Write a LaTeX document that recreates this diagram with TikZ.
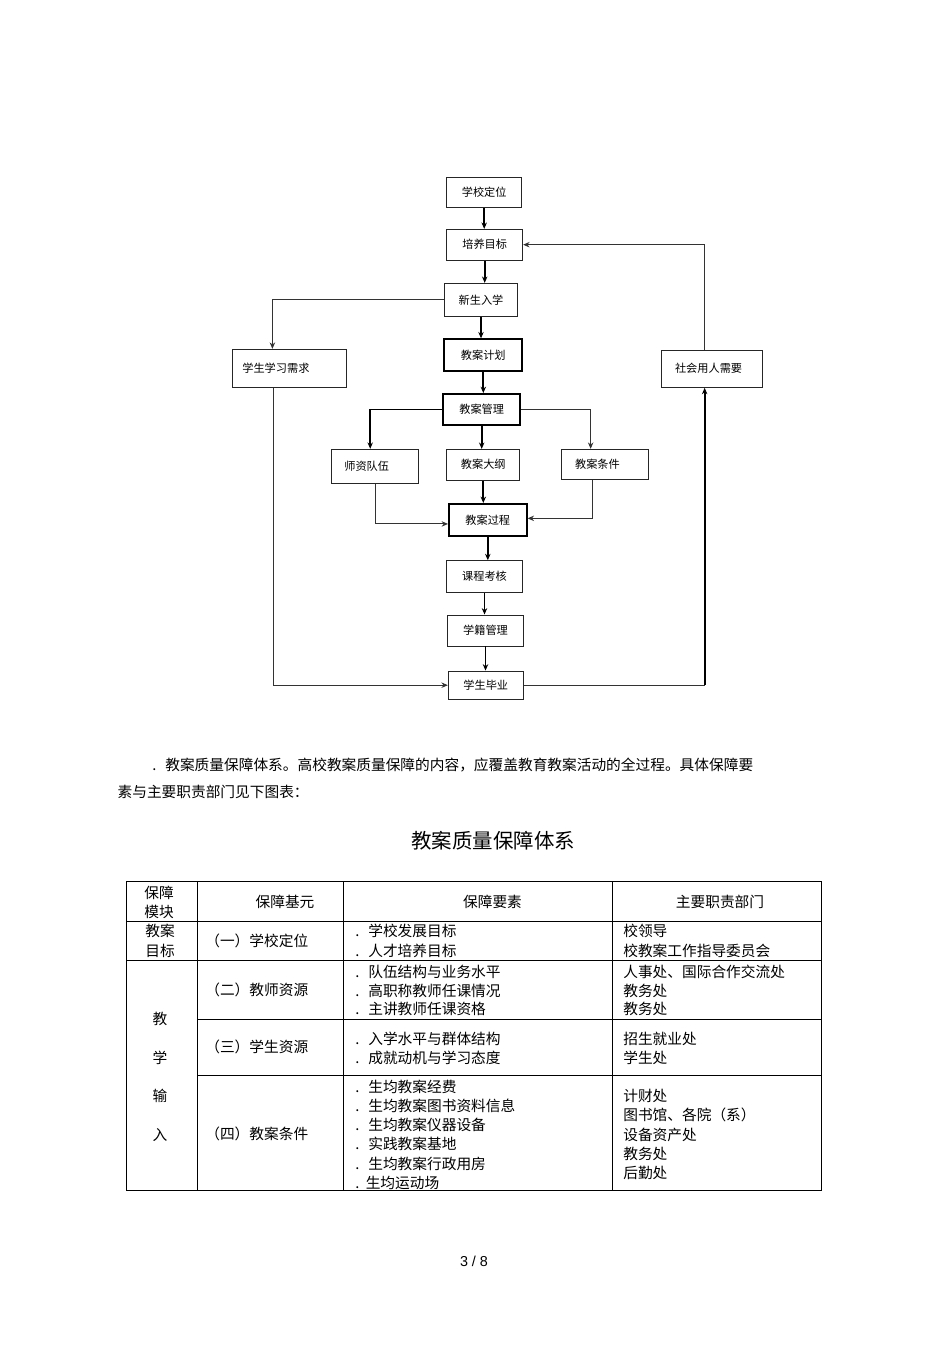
\documentclass[tikz,border=0pt]{standalone}
\usepackage{fontspec}
\setmainfont{Noto Sans CJK SC}
\newfontfamily\pagefont{Liberation Sans}
\usetikzlibrary{arrows.meta}
\newcommand{\itm}{.\hspace{5.6pt}}

\begin{document}
\begin{tikzpicture}[x=0.626pt, y=-0.626pt,
  box/.style={draw=black!85, line width=0.6pt, rectangle, inner sep=1pt,
              font=\fontsize{7}{8}\selectfont},
  tbox/.style={box, draw=black, line width=1.2pt},
  sbox/.style={box, align=left},
  wh/.style 2 args={minimum width=#1*0.626pt, minimum height=#2*0.626pt},
  arr/.style={line width=1.1pt, -{Stealth[length=4pt, width=3.4pt]}},
  lnk/.style={line width=0.6pt, draw=black!80, -{Stealth[length=4pt, width=3.4pt]}},
  cel/.style={font=\fontsize{9.2}{12}\selectfont, inner sep=0pt, anchor=west, align=left},
  tline/.style={line width=0.6pt}
]
\fill[white] (0,0) rectangle (950,1345);
\useasboundingbox (0,0) rectangle (950,1345);

\node[box, wh={75}{30}]     (xxdw) at (484.2,192.3) {学校定位};
\node[box, wh={76}{30.7}]   (pymb) at (484.7,244.7) {培养目标};
\node[box, wh={73.4}{32.7}] (xsrx) at (481,299.7)   {新生入学};
\node[tbox, wh={78}{32}]    (jajh) at (483.3,355.3) {教案计划};
\node[sbox, wh={114.4}{38}, inner xsep=6.3pt, text width=59pt]   (xsxq) at (289.5,368.3) {学生学习需求};
\node[sbox, wh={100.6}{37.3}, inner xsep=8.3pt, text width=46.3pt] (shyr) at (712,368.7) {社会用人需要};
\node[tbox, wh={76.7}{31}]  (jagl) at (481.7,409.5) {教案管理};
\node[sbox, wh={86.6}{34}, inner xsep=7.9pt, text width=38.4pt] (szdw) at (375,466.3) {师资队伍};
\node[box, wh={73.3}{30.7}] (jadg) at (483.3,464.7) {教案大纲};
\node[sbox, wh={87.3}{30}, inner xsep=8.8pt, text width=37.1pt] (jatj) at (604.7,464.3) {教案条件};
\node[tbox, wh={77.7}{31.7}] (jagc) at (487.8,519.8) {教案过程};
\node[box, wh={75.6}{31.6}] (kckh) at (484.5,576.5) {课程考核};
\node[box, wh={75.6}{31}]   (xjgl) at (485.5,630.5) {学籍管理};
\node[box, wh={75}{28.3}]   (xsby) at (485.8,685.2) {学生毕业};
\coordinate (rtc) at ([xshift=-4.6pt]shyr.south |- xsby.east);

\draw[arr] (xxdw) -- (xxdw |- pymb.north);
\draw[arr] (pymb) -- (pymb |- xsrx.north);
\draw[arr] (xsrx) -- (xsrx |- jajh.north);
\draw[arr] (jajh) -- (jajh |- jagl.north);
\draw[arr] (jagl) -- (jagl |- jadg.north);
\draw[arr] (jadg) -- (jadg |- jagc.north);
\draw[arr] (jagc) -- (jagc |- kckh.north);
\draw[arr] (kckh) -- (kckh |- xjgl.north);
\draw[arr] (xjgl) -- (xjgl |- xsby.north);
\draw[lnk] (xsrx.west) -| ([xshift=-10.7pt]xsxq.north);
\draw[lnk] ([xshift=-10.1pt]xsxq.south) |- (xsby.west);
\draw[lnk, -] (xsby.east) -- (rtc);
\draw[arr] (rtc) -- ([xshift=-4.6pt]shyr.south);
\draw[lnk] ([xshift=-4.6pt]shyr.north) |- (pymb.east);
\draw[arr] (jagl.west) -| ([xshift=-3pt]szdw.north);
\draw[lnk] (jagl.east) -| ([xshift=-8.8pt]jatj.north);
\draw[lnk] (szdw.south) |- ([yshift=-2.6pt]jagc.west);
\draw[lnk] ([xshift=-7.8pt]jatj.south) |- ([yshift=0.9pt]jagc.east);

\node[cel] (para1) at (152,765) {\itm 教案质量保障体系。高校教案质量保障的内容，应覆盖教育教案活动的全过程。具体保障要};
\node[cel] (para2) at (117.3,792) {素与主要职责部门见下图表：};
\node[font=\fontsize{12.8}{15}\selectfont, inner sep=0pt] (title) at (493.3,841) {教案质量保障体系};

\draw[tline] (126.7,881) rectangle (821.6,1190);
\draw[tline] (126.7,921.7) -- (821.6,921.7);
\draw[tline] (126.7,960) -- (821.6,960);
\draw[tline] (197.3,1019) -- (821.6,1019);
\draw[tline] (197.3,1075) -- (821.6,1075);
\draw[tline] (197.3,881) -- (197.3,1190);
\draw[tline] (343.3,881) -- (343.3,1190);
\draw[tline] (612.7,881) -- (612.7,1190);

\node[cel, anchor=center, align=center] (hmk) at (159,902.2) {保障\\模块};
\node[cel, anchor=center] (hjy) at (285,901.7)   {保障基元};
\node[cel, anchor=center] (hys) at (492.5,901.7) {保障要素};
\node[cel, anchor=center] (hbm) at (720,901.7)   {主要职责部门};
\node[cel, anchor=center, align=center, font=\fontsize{9.2}{12.5}\selectfont] (mjamb) at (160,941) {教案\\目标};
\node[cel, anchor=center, align=center, font=\fontsize{9.2}{24.2}\selectfont] (mjxsr) at (160,1077) {教\\学\\输\\入};
\node[cel] (jy1) at (205,940.7)  {（一）学校定位};
\node[cel] (jy2) at (205,990)    {（二）教师资源};
\node[cel] (jy3) at (205,1046.7) {（三）学生资源};
\node[cel] (jy4) at (205,1134.3) {（四）教案条件};
\node[cel, font=\fontsize{9.2}{12.5}\selectfont] (ys1) at (355,941) {\itm 学校发展目标\\\itm 人才培养目标};
\node[cel, font=\fontsize{9.2}{11.8}\selectfont] (ys2) at (355,990.5) {\itm 队伍结构与业务水平\\\itm 高职称教师任课情况\\\itm 主讲教师任课资格};
\node[cel, font=\fontsize{9.2}{11.5}\selectfont] (ys3) at (355,1048.5) {\itm 入学水平与群体结构\\\itm 成就动机与学习态度};
\node[cel] (ys4) at (355,1134.7) {\itm 生均教案经费\\\itm 生均教案图书资料信息\\\itm 生均教案仪器设备\\\itm 实践教案基地\\\itm 生均教案行政用房\\.\hspace{4pt}生均运动场};
\node[cel, font=\fontsize{9.2}{12.5}\selectfont] (bm1) at (623,941) {校领导\\校教案工作指导委员会};
\node[cel, font=\fontsize{9.2}{11.8}\selectfont] (bm2) at (623,990.5) {人事处、国际合作交流处\\教务处\\教务处};
\node[cel, font=\fontsize{9.2}{11.5}\selectfont] (bm3) at (623,1048.5) {招生就业处\\学生处};
\node[cel] (bm4) at (623,1134.5) {计财处\\图书馆、各院（系）\\设备资产处\\教务处\\后勤处};

\node[font=\pagefont\fontsize{9}{11}\selectfont, inner sep=0pt] (pgno) at (474,1261) {3 / 8};
\end{tikzpicture}
\end{document}
